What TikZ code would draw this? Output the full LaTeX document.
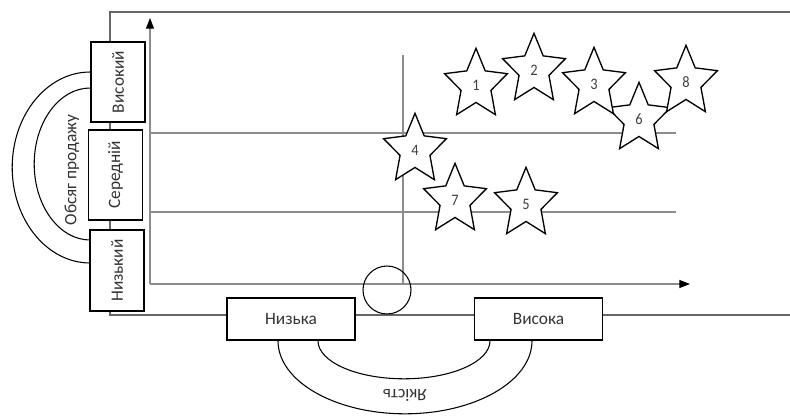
\documentclass[tikz,border=0pt]{standalone}
\usepackage{fontspec}
\setmainfont{Carlito}
\usepackage{tikz}
\usetikzlibrary{arrows.meta,positioning,shapes.geometric}
\definecolor{bk80}{HTML}{333333}
\definecolor{bk75}{HTML}{404040}
\definecolor{bk60}{HTML}{666666}
\definecolor{bk45}{HTML}{8C8C8C}
\tikzset{
  levelbox/.style={
    rectangle, draw=black, fill=white, line width=1.2pt,
    minimum width=#1, minimum height=40.5pt,
    font=\fontsize{13}{15}\selectfont, text=bk80, inner sep=2pt
  },
  levelbox/.default=60pt,
  gradebox/.style={
    rectangle, draw=black, fill=white, line width=1.2pt,
    minimum width=96pt, minimum height=31.5pt,
    font=\fontsize{13}{15}\selectfont, text=bk80, inner sep=2pt
  },
  framelink/.style={line width=1.5pt, color=bk60},
  axisline/.style={line width=0.9pt, color=bk45},
  axisarrow/.style={
    -{Triangle[length=8pt, width=6pt, color=black]}, axisline
  },
  splitline/.style={line width=1pt, color=bk45},
  bowline/.style={line width=0.8pt, color=black},
  bowlabel/.style={font=\fontsize{13}{15}\selectfont, text=bk80},
  rankstar/.style={
    star, star points=5, star point ratio=2.1,
    draw=black, fill=white, line width=1pt,
    minimum size=55pt, inner sep=0pt, xscale=0.9,
    font=\fontsize{12}{14}\selectfont, text=bk75
  },
}
\begin{document}
\begin{tikzpicture}[x=0.75pt, y=-0.75pt]
  \useasboundingbox (0,0) rectangle (790,415);

  % Frame corners
  \coordinate (ftl) at (110,12);
  \coordinate (ftr) at (790,12);
  \coordinate (fbl) at (110,315);
  \coordinate (fbr) at (790,315);

  % Sales level boxes on the left
  \node[levelbox=60pt, rotate=90] (hi) at (118,82) {Високий};
  \node[levelbox=67.5pt, rotate=90] (mid) at (115.5,175) {Середній};
  \node[levelbox=61pt, rotate=90] (lo) at (117,270.5) {Низький};

  % Quality boxes at the bottom
  \node[gradebox] (qlo) at (291,319) {Низька};
  \node[gradebox] (qhi) at (538.5,319) {Висока};

  % Outer frame through the boxes
  \draw[framelink] (ftr) -- (ftl) -- (ftl |- hi.east);
  \draw[framelink] (hi.west -| ftl) -- (mid.east -| ftl);
  \draw[framelink] (mid.west -| ftl) -- (lo.east -| ftl);
  \draw[framelink] (lo.west -| ftl) -- (fbl) -- (fbl -| qlo.west);
  \draw[framelink] (fbl -| qlo.east) -- (fbl -| qhi.west);
  \draw[framelink] (fbl -| qhi.east) -- (fbr);

  % Axes
  \coordinate (o) at (150,284);
  \coordinate (ytop) at (150,18);
  \coordinate (xend) at (690,284);
  \draw[axisarrow] (o) -- (ytop);
  \draw[axisarrow] (o) -- (xend);

  % Split lines
  \draw[splitline] (150,133) -- (676,133);
  \draw[splitline] (150,212) -- (676,212);
  \draw[splitline] (403,55) -- (403,284);

  % Circle on the quality split
  \node[circle, draw=black, line width=0.8pt, minimum size=36pt, inner sep=0pt]
    (pivot) at (387,290) {};

  % Bow on the left: sales volume
  \draw[bowline] (hi.north |- 0,72)
    arc[start angle=270, end angle=90, x radius=78, y radius=95.5];
  \draw[bowline] (hi.north |- 0,88)
    arc[start angle=270, end angle=90, x radius=56, y radius=76];
  \node[bowlabel, rotate=90] (sales) at (72,170) {Обсяг продажу};

  % Bow at the bottom: quality
  \draw[bowline] (278,0 |- qlo.south)
    arc[start angle=180, end angle=0, x radius=127, y radius=73];
  \draw[bowline] (318,0 |- qlo.south)
    arc[start angle=180, end angle=0, x radius=86, y radius=38];
  \node[bowlabel, rotate=180] (quality) at (405,395) {Якість};

  % Products
  \node[rankstar] (s6) at (639,119) {6};
  \node[rankstar] (s1) at (476,85) {1};
  \node[rankstar] (s2) at (534,70) {2};
  \node[rankstar] (s3) at (594,84) {3};
  \node[rankstar] (s8) at (686,82) {8};
  \node[rankstar] (s4) at (415,150) {4};
  \node[rankstar] (s7) at (455,200) {7};
  \node[rankstar] (s5) at (526,204) {5};
\end{tikzpicture}
\end{document}
